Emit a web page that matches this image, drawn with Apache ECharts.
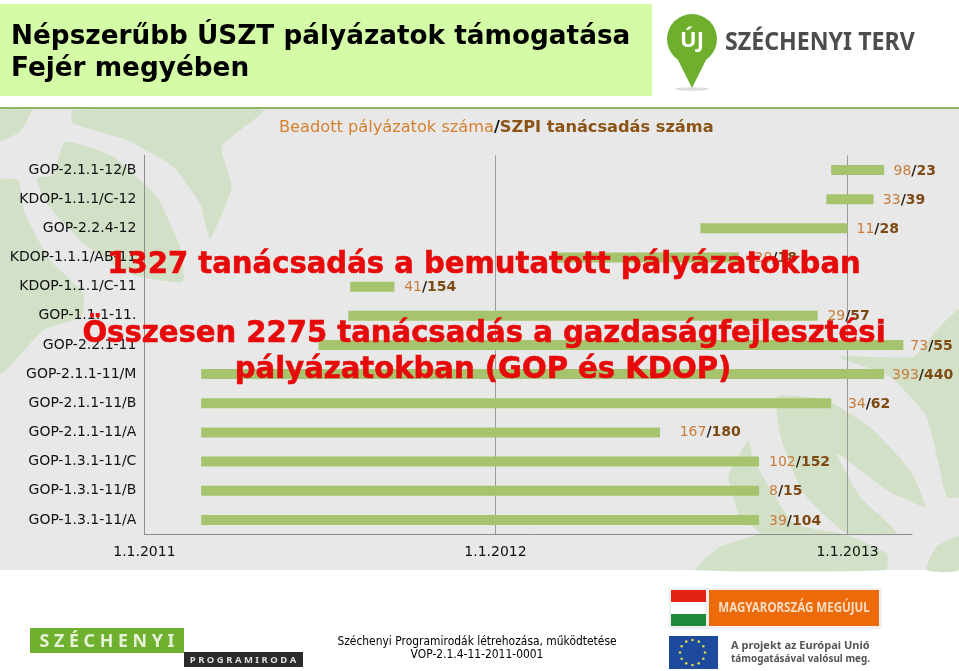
<!DOCTYPE html>
<html><head><meta charset="utf-8">
<style>html,body{margin:0;padding:0;background:#fff}#c{width:959px;height:671px}</style>
<script src="https://cdn.jsdelivr.net/npm/echarts@6/dist/echarts.min.js"></script>
</head><body><div id="c"></div>
<script>
const categories = ["GOP-2.1.1-12/B","KDOP-1.1.1/C-12","GOP-2.2.4-12","KDOP-1.1.1/AB-11","KDOP-1.1.1/C-11","GOP-1.1.1-11.","GOP-2.2.1-11","GOP-2.1.1-11/M","GOP-2.1.1-11/B","GOP-2.1.1-11/A","GOP-1.3.1-11/C","GOP-1.3.1-11/B","GOP-1.3.1-11/A"];
const startDates = ["2012-12-15","2012-12-10","2012-08-01","2012-03-04","2011-08-03","2011-08-01","2011-07-01","2011-03-01","2011-03-01","2011-03-01","2011-03-01","2011-03-01","2011-03-01"];
const endDates = ["2013-02-08","2013-01-28","2013-01-01","2012-09-10","2011-09-18","2012-12-01","2013-02-28","2013-02-08","2012-12-15","2012-06-20","2012-10-01","2012-10-01","2012-10-01"];
const submitted = [98,33,11,20,41,29,73,393,34,167,102,8,39];
const consulted = [23,39,28,18,154,57,55,440,62,180,152,15,104];
const tickDates = ["2011-01-01","2012-01-01","2013-01-01"];
const axisMin = "2011-01-01", axisMax = "2013-03-09";

const ms = d => new Date(d + "T00:00:00Z").getTime();
const labelGaps = [9.4,9.3,9,15.7,9.7,9.7,7,8,16.7,19.7,10,10,10];
const labelShift = [1,1,1,1,1,1,1,1,1,0,1,1,1];

const FONT = '"DejaVu Sans"';
const BG = '#e8e8e8', LEAF = '#d3e0c8', BAR = '#a6c46e';

function z1(pts){ return pts.map(p => [p[0]/3, 100 + p[1]/3]); }
function z8(pts){ return pts.map(p => [660 + p[0]/3, 290 + p[1]/3]); }
function leaf(points, smooth){ return {type:'polygon', z:-9, silent:true, shape:{points, smooth: smooth === undefined ? 0.25 : smooth}, style:{fill:LEAF}}; }
function txt(x,y,text,opt){ return {type:'text', x, y, z:opt.z||5, silent:true, scaleX:opt.scaleX||1, style:Object.assign({text, font:opt.font, fill:opt.fill||'#000', textAlign:opt.align||'left', textVerticalAlign:'middle'}, opt.style||{})}; }
function rect(x,y,w,h,fill,z){ return {type:'rect', z:z||-8, silent:true, shape:{x,y,width:w,height:h}, style:{fill}}; }

const stars = [];
for (let i=0;i<12;i++){ const a=i*Math.PI/6; stars.push({type:'circle', z:-7, silent:true, shape:{cx:692.5+12.5*Math.cos(a), cy:652.5+12.5*Math.sin(a), r:1.3}, style:{fill:'#d9d94a'}}); }

const RED = {font:'bold 31px '+FONT, fill:'#e60a0a', align:'center', z:100, scaleX:0.938, style:{stroke:'#e60a0a', lineWidth:0.6}};

const elements = [
  rect(0,109,959,461,BG,-10),
  {type:'line', z:-8, silent:true, shape:{x1:0,y1:108,x2:959,y2:108}, style:{stroke:'#8db562',lineWidth:2}},
  rect(0,4,652,92,'#d4fba6'),
  leaf(z1([[0,30],[95,30],[60,95],[0,125]]),0.1),
  leaf(z1([[218,30],[790,30],[665,140],[695,260],[630,415],[600,310],[520,200],[380,120],[218,70]]),0.15),
  leaf(z1([[195,125],[340,170],[470,290],[540,440],[548,545],[400,525],[250,430],[140,310],[110,235],[160,225]]),0.15),
  leaf(z1([[0,240],[55,240],[75,340],[150,480],[250,580],[245,650],[130,690],[0,820]]),0.15),
  leaf(z8([[897,60],[830,120],[760,200],[535,200],[690,260],[800,380],[860,620],[897,620]]),0.15),
  leaf(z8([[350,320],[500,330],[640,420],[750,540],[795,650],[680,600],[530,490],[600,620],[710,730],[560,730],[430,610],[365,450]]),0.15),
  leaf(z8([[265,450],[205,560],[240,680],[300,730],[180,770],[105,840],[680,840],[680,790],[560,735],[400,700],[280,510]]),0.12),
  leaf(z8([[800,840],[830,770],[897,740],[897,840]]),0.2),

  txt(11,37.5,'Népszerűbb ÚSZT pályázatok támogatása',{font:'bold 26.3px '+FONT}),
  txt(11,69,'Fejér megyében',{font:'bold 26.3px '+FONT}),

  {type:'text', x:279, y:128, z:5, silent:true, style:{text:'{a|Beadott pályázatok száma}{s|/}{b|SZPI tanácsadás száma}', textVerticalAlign:'middle', rich:{
    a:{font:'16.2px '+FONT, fill:'#d5812f'}, s:{font:'bold 16.2px '+FONT, fill:'#111'}, b:{font:'bold 16.2px '+FONT, fill:'#8b5315'}}}},

  // Új Széchenyi Terv logo
  {type:'ellipse', z:-7, silent:true, shape:{cx:692,cy:89,rx:17,ry:1.8}, style:{fill:'#ddd'}},
  {type:'polygon', z:-6, silent:true, shape:{points:[[677,58],[692,88],[707,58]]}, style:{fill:'#6eaf2e'}},
  {type:'circle', z:-6, silent:true, shape:{cx:692,cy:39,r:25}, style:{fill:'#6eaf2e'}},
  txt(692,41,'ÚJ',{font:'bold 22px "Noto Sans"',fill:'#fff',align:'center',z:1}),
  txt(725,43,'SZÉCHENYI TERV',{font:'bold 25px "Noto Sans"',fill:'#4a4c4e',scaleX:0.927,z:1}),

  // Programiroda logo
  rect(30,628,154,25,'#6fb02f'),
  txt(107,642,'S Z É C H E N Y I',{font:'bold 17px "Noto Sans"',fill:'#e6f2d8',align:'center',scaleX:1.05,z:1}),
  rect(184,652,119,15,'#2b2b2b'),
  txt(243,660,'P R O G R A M I R O D A',{font:'bold 9.5px "Noto Sans"',fill:'#ddd',align:'center',z:1}),

  // footer
  txt(477,642,'Széchenyi Programirodák létrehozása, működtetése',{font:'12px '+FONT,align:'center',scaleX:0.894}),
  txt(477,655,'VOP-2.1.4-11-2011-0001',{font:'12px '+FONT,align:'center',scaleX:0.894}),

  // Magyarország megújul
  rect(669,588,213,41,'#f0f0f0'),
  rect(671,590,35,12,'#e32213'),
  rect(671,602,35,12,'#ffffff'),
  rect(671,614,35,12,'#1f8a3a'),
  rect(709,590,170,36,'#ec6a07'),
  txt(794,608,'MAGYARORSZÁG MEGÚJUL',{font:'bold 15px "Noto Sans"',fill:'#f8dcc4',align:'center',scaleX:0.77,z:1}),
  rect(669,636,49,33,'#1d4a9c'),
  ...stars,
  txt(731,646,'A projekt az Európai Unió',{font:'bold 10.5px "Noto Sans"',fill:'#555',scaleX:1.05,z:1}),
  txt(731,659,'támogatásával valósul meg.',{font:'bold 10.5px "Noto Sans"',fill:'#555',scaleX:0.945,z:1}),

  // red overlay messages
  txt(484,265,'1327 tanácsadás a bemutatott pályázatokban',RED),
  txt(484,334,'Összesen 2275 tanácsadás a gazdaságfejlesztési',RED),
  txt(483,370,'pályázatokban (GOP és KDOP)',RED),
];

const chart = echarts.init(document.getElementById('c'), null, {renderer:'canvas'});
const seriesData = categories.map((c,i)=>[ms(startDates[i]), ms(endDates[i]), i, submitted[i], consulted[i]]);
const tickValues = tickDates.map(ms);

chart.setOption({
  animation: false,
  backgroundColor: '#fff',
  graphic: {elements},
  grid: {left:144.4, right:47, top:155.4, bottom:136.5, containLabel:false},
  xAxis: {
    type:'value', min:ms(axisMin), max:ms(axisMax), scale:true,
    axisLine:{show:true, onZero:false, lineStyle:{color:'#8e8e8e',width:1}},
    axisTick:{show:false, customValues:tickValues},
    splitLine:{show:true, lineStyle:{color:'#9a9a9a',width:1}},
    axisLabel:{customValues:tickValues, margin:11, color:'#111', fontFamily:FONT, fontSize:14, hideOverlap:false,
      formatter:v=>{const d=new Date(v);return d.getUTCDate()+'.'+(d.getUTCMonth()+1)+'.'+d.getUTCFullYear();}}
  },
  yAxis: {
    type:'category', data:categories, inverse:true,
    axisLine:{show:true, lineStyle:{color:'#8e8e8e',width:1}},
    axisTick:{show:false}, splitLine:{show:false},
    axisLabel:{margin:8, padding:[4,0,0,0], color:'#111', fontFamily:FONT, fontSize:14, interval:0}
  },
  series: [{
    type:'custom', coordinateSystem:'cartesian2d', clip:false,
    encode:{x:[0,1], y:2},
    data: seriesData,
    renderItem:(params, api)=>{
      const i = api.value(2);
      const a = api.coord([api.value(0), i]);
      const b = api.coord([api.value(1), i]);
      return {type:'group', children:[
        {type:'rect', shape:{x:a[0], y:a[1]-5, width:b[0]-a[0], height:10}, style:{fill:BAR}},
        {type:'text', x:b[0]+labelGaps[i], y:a[1]+labelShift[i], style:{
          text:'{a|'+api.value(3)+'}{s|/}{b|'+api.value(4)+'}', textVerticalAlign:'middle',
          rich:{a:{font:'14px '+FONT, fill:'#c87c3a'}, s:{font:'bold 14px '+FONT, fill:'#2b2015'}, b:{font:'bold 14px '+FONT, fill:'#7d4a14'}}
        }}
      ]};
    }
  }]
});
</script></body></html>
